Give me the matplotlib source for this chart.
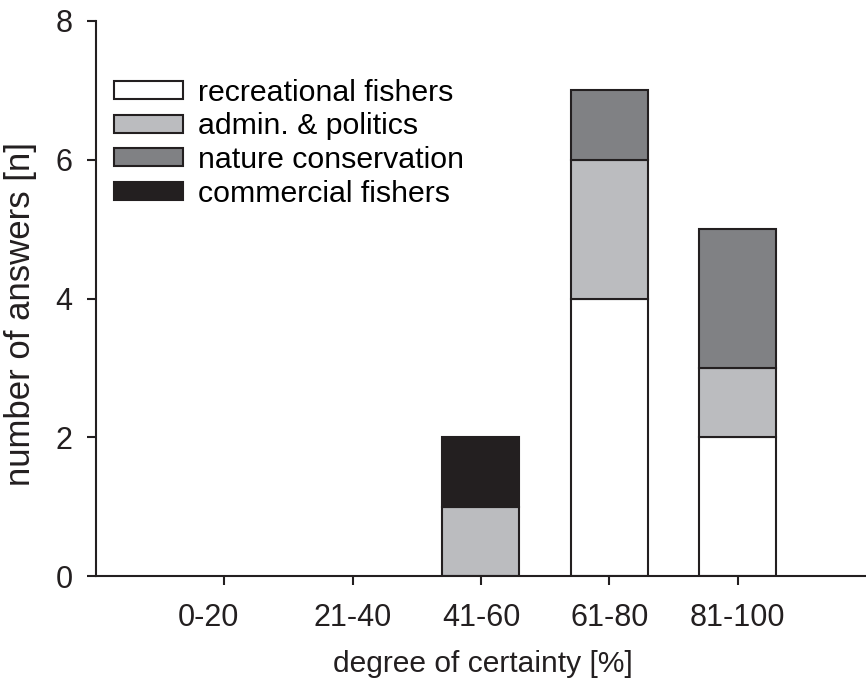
import numpy as np
import matplotlib
matplotlib.use("Agg")
import matplotlib.pyplot as plt
import matplotlib.transforms as mtransforms

# data
categories = ["0-20", "21-40", "41-60", "61-80", "81-100"]
recreational = [0, 0, 0, 4, 2]
admin = [0, 0, 1, 2, 1]
nature = [0, 0, 0, 1, 2]
commercial = [0, 0, 1, 0, 0]

series = [
    ("recreational fishers", recreational, "#ffffff"),
    ("admin. & politics", admin, "#bbbcbf"),
    ("nature conservation", nature, "#808184"),
    ("commercial fishers", commercial, "#231f20"),
]

plt.rcParams["font.family"] = ["Liberation Sans", "DejaVu Sans"]
ink = "#231f20"

fig = plt.figure(figsize=(8.66, 6.86), dpi=100)
ax = fig.add_axes([96 / 866, 1 - 576 / 686, 1 - 96 / 866, (576 - 21) / 686])

x = np.arange(len(categories))
bottom = np.zeros(len(categories))
for label, vals, color in series:
    vals = np.array(vals, dtype=float)
    # no outline for empty segments
    lw = [1.5 if v > 0 else 0 for v in vals]
    ax.bar(x, vals, width=0.6, bottom=bottom, color=color, edgecolor=ink,
           linewidth=lw, label=label)
    bottom += vals

ax.set_xlim(-1, 5)
ax.set_ylim(0, 8)
ax.set_xticks(x)
ax.set_xticklabels(categories)
ax.set_yticks([0, 2, 4, 6, 8])

# only left and bottom axis lines
for side in ("top", "right"):
    ax.spines[side].set_visible(False)
for side in ("left", "bottom"):
    ax.spines[side].set_color(ink)
    ax.spines[side].set_linewidth(1.5)

ax.tick_params(direction="out", length=6.5, width=1.5, color=ink,
               labelsize=22, labelcolor=ink)
ax.tick_params(axis="y", pad=10.5)
ax.tick_params(axis="x", pad=13)

# the first category label sits a little left of its tick in the original
first = ax.get_xticklabels()[0]
first.set_transform(first.get_transform() +
                    mtransforms.ScaledTranslation(-0.16, 0, fig.dpi_scale_trans))

ax.set_xlabel("degree of certainty [%]", fontsize=21.6, color=ink)
ax.set_ylabel("number of answers [n]", fontsize=25, color=ink)
ax.xaxis.set_label_coords(0.502, -0.133)
ax.yaxis.set_label_coords(-0.077, 0.472)

leg = ax.legend(loc="upper left", bbox_to_anchor=(0.0234, 0.8962), frameon=False,
                fontsize=21.8, handlelength=2.28, handleheight=0.53,
                labelspacing=0.19, handletextpad=0.5, borderpad=0,
                borderaxespad=0)
for h in leg.legend_handles:
    h.set_linewidth(1.5)

fig.savefig("out.png", dpi=100)
